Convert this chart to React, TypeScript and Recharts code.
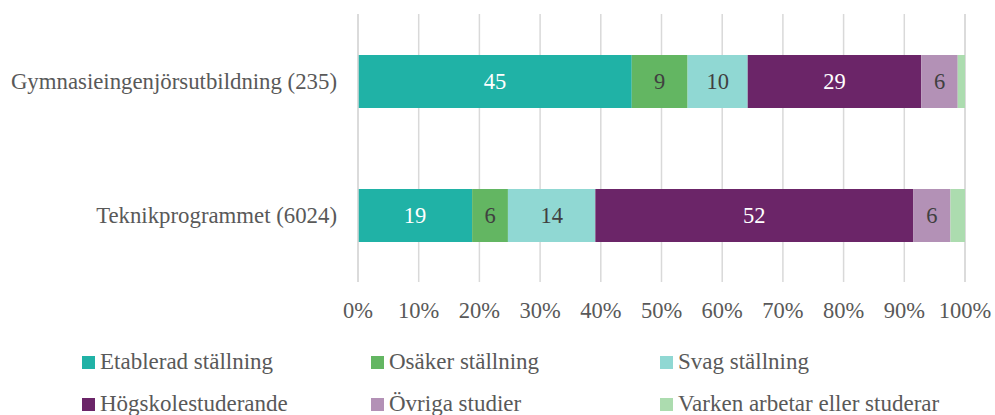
import React from 'react';
import {
  BarChart,
  Bar,
  XAxis,
  YAxis,
  CartesianGrid,
  LabelList,
} from 'recharts';

const categories = ['Gymnasieingenjörsutbildning (235)', 'Teknikprogrammet (6024)'];

const seriesNames = [
  'Etablerad ställning',
  'Osäker ställning',
  'Svag ställning',
  'Högskolestuderande',
  'Övriga studier',
  'Varken arbetar eller studerar',
];

const etablerad = [45.1, 18.8];
const osaker = [9.2, 5.9];
const svag = [9.9, 14.4];
const hogskole = [28.6, 52.4];
const ovriga = [6.0, 6.1];
const varken = [1.2, 2.4];

const xTicks = [0, 10, 20, 30, 40, 50, 60, 70, 80, 90, 100];

const seriesValues = [etablerad, osaker, svag, hogskole, ovriga, varken];
const COLORS = ['#20b2a6', '#63b662', '#90d8d3', '#6b2568', '#b391b6', '#acdcaf'];
const LABEL_COLORS = ['#ffffff', '#404040', '#404040', '#ffffff', '#404040', '#404040'];

const FONT = '"Liberation Serif", "DejaVu Serif", serif';
const TEXT = '#595959';

const rows = categories.map((name, i) => {
  const row: Record<string, string | number> = { name };
  seriesValues.forEach((vals, s) => {
    row[`s${s}`] = vals[i];
  });
  return row;
});

const fmt = (v: any) => (typeof v === 'number' && v >= 3 ? Math.round(v) : '');

export default function App() {
  return (
    <div style={{ position: 'absolute', left: 0, top: 0, width: 995, height: 415, background: '#fff', fontFamily: FONT }}>
      <BarChart
        width={995}
        height={330}
        data={rows}
        layout="vertical"
        margin={{ top: 14, right: 30, bottom: 0, left: 0 }}
        barCategoryGap={40}
      >
        <CartesianGrid horizontal={false} stroke="#d9d9d9" strokeWidth={1.5} />
        <XAxis
          type="number"
          domain={[0, 100]}
          ticks={xTicks}
          tickFormatter={(v) => `${v}%`}
          axisLine={false}
          tickLine={false}
          tickSize={0}
          tickMargin={20}
          height={48}
          interval={0}
          tick={{ fill: TEXT, fontSize: 22.5, fontFamily: FONT }}
        />
        <YAxis
          type="category"
          dataKey="name"
          width={358}
          axisLine={{ stroke: '#d9d9d9', strokeWidth: 1.5 }}
          tickLine={false}
          tickSize={0}
          tickMargin={21}
          tick={{ fill: TEXT, fontSize: 22.8, fontFamily: FONT }}
        />
        {seriesNames.map((n, s) => (
          <Bar
            key={n}
            dataKey={`s${s}`}
            name={n}
            stackId="a"
            fill={COLORS[s]}
            barSize={53}
            isAnimationActive={false}
          >
            <LabelList
              dataKey={`s${s}`}
              position="center"
              formatter={fmt}
              fill={LABEL_COLORS[s]}
              style={{ fontSize: 22.5, fontFamily: FONT }}
            />
          </Bar>
        ))}
      </BarChart>
      <div
        style={{
          position: 'absolute',
          left: 82,
          top: 341,
          display: 'grid',
          gridTemplateColumns: '289px 289px 289px',
          rowGap: 0,
          fontSize: 23,
          color: TEXT,
        }}
      >
        {seriesNames.map((n, s) => (
          <div key={n} style={{ display: 'flex', alignItems: 'center', height: 42 }}>
            <span style={{ width: 13, height: 13, background: COLORS[s], marginRight: 5, display: 'inline-block', flexShrink: 0 }} />
            <span style={{ whiteSpace: 'nowrap' }}>{n}</span>
          </div>
        ))}
      </div>
    </div>
  );
}
